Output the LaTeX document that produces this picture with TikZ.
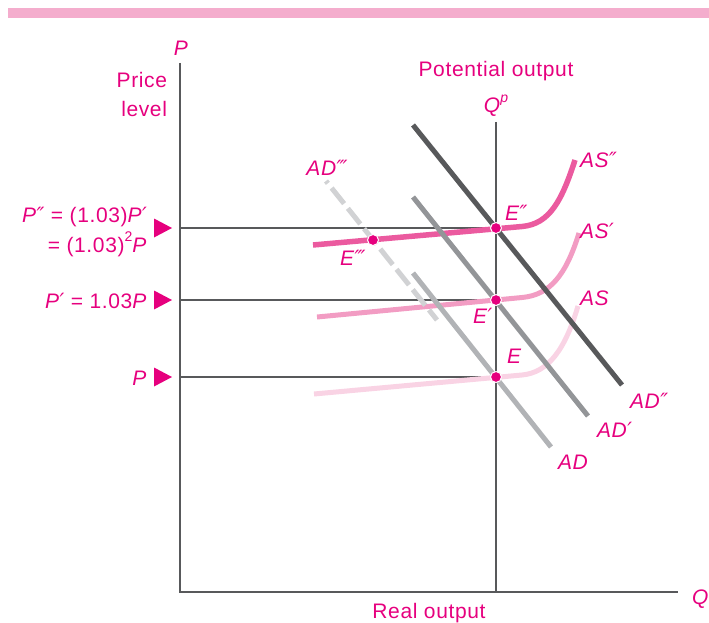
\documentclass[tikz,border=0pt]{standalone}
\usepackage{fontspec}
\setmainfont{Liberation Sans}[LetterSpace=3]
\newfontfamily\primefont{DejaVu Sans}
\newcommand{\pone}{{\primefont\itshape\kern0.5pt ′}}
\newcommand{\ptwo}{{\primefont\itshape\kern0.5pt ″}}
\newcommand{\pthree}{{\primefont\itshape\kern0.5pt ‴}}
\begin{document}
\begin{tikzpicture}[x=1pt,y=-1pt,
  every node/.style={inner sep=0pt, outer sep=0pt, text=mag, font=\fontsize{21}{25}\selectfont},
  axisline/.style={draw=axisgray, line width=1.4pt},
  guide/.style={draw=axisgray, line width=1.1pt},
  adline/.style={line width=5pt},
  asline/.style={line width=5pt, line cap=butt},
  eqdot/.style={circle, fill=mag, draw=white, line width=1pt, minimum size=11pt},
  marker/.style={fill=mag},
  lbl/.style={anchor=base west, font=\fontsize{21}{25}\selectfont\itshape}
]
\definecolor{mag}{HTML}{E6007E}
\definecolor{bar}{HTML}{F4ADCD}
\definecolor{axisgray}{HTML}{58595B}
\definecolor{addark}{HTML}{58595B}
\definecolor{admid}{HTML}{939598}
\definecolor{adlight}{HTML}{B1B3B6}
\definecolor{addash}{HTML}{D1D2D4}
\definecolor{asA}{HTML}{F9D3E4}
\definecolor{asB}{HTML}{F29CC3}
\definecolor{asC}{HTML}{EB5A9F}
\useasboundingbox (0,0) rectangle (709,623);
% top bar
\fill[bar] (8,8) rectangle (709,18);

% axes
\coordinate (O) at (180,592);
\coordinate (ytop) at (180,63);
\coordinate (xend) at (678,592);
\coordinate (qptop) at (496,122);
\coordinate (qpbot) at (496,592);
\draw[axisline] (ytop) -- (O) -- (xend);
\draw[guide] (qptop) -- (qpbot);

% equilibrium points
\coordinate (E) at (496,377);
\coordinate (E1) at (496,300);
\coordinate (E2) at (496,228);
\coordinate (E3) at (373,240);

% price guides
\coordinate (yP) at (180,377);
\coordinate (yP1) at (180,300);
\coordinate (yP2) at (180,228);
\draw[guide] (yP) -- (E);
\draw[guide] (yP1) -- (E1);
\draw[guide] (yP2) -- (E2);

% AS curves
\draw[asline, draw=asA] (314,394) -- (522,375) .. controls (548,372.6) and (565,350) .. (578,306);
\draw[asline, draw=asB] (317,317) -- (522,297.5) .. controls (550,295) and (566,275) .. (579,233);
\draw[asline, draw=asC, line width=5.5pt] (313,245) -- (522,226.5) .. controls (550,224) and (562,200) .. (575,160);

% AD lines
\coordinate (ad0a) at (413,273); \coordinate (ad0b) at (551,447);
\coordinate (ad1a) at (413,197); \coordinate (ad1b) at (588,416);
\coordinate (ad2a) at (413,125); \coordinate (ad2b) at (622,385);
\coordinate (ad3a) at (326,181); \coordinate (ad3b) at (437,320);
\draw[adline, draw=addash, dash pattern=on 20pt off 6pt, dash phase=17pt] (ad3a) -- (ad3b);
\draw[adline, draw=adlight] (ad0a) -- (ad0b);
\draw[adline, draw=admid] (ad1a) -- (ad1b);
\draw[adline, draw=addark] (ad2a) -- (ad2b);

% dots
\node[eqdot] (dE) at (E) {};
\node[eqdot] (dE1) at (E1) {};
\node[eqdot] (dE2) at (E2) {};
\node[eqdot] (dE3) at (E3) {};

% price markers
\fill[marker] (154,218.5) -- (172,228) -- (154,237.5) -- cycle;
\fill[marker] (154,290.5) -- (172,300) -- (154,309.5) -- cycle;
\fill[marker] (154,367.5) -- (172,377) -- (154,386.5) -- cycle;

% axis labels
\node[anchor=base, font=\fontsize{21}{25}\selectfont\itshape] (lP) at (181,56) {P};
\node[anchor=base east] (lprice) at (167,88) {Price};
\node[anchor=base east] (llevel) at (167,117) {level};
\node[anchor=base] (lpot) at (496,77) {Potential output};
\node[anchor=base, font=\fontsize{21}{25}\selectfont\itshape] (lQp) at (496,113) {Q\raisebox{0.5em}{\fontsize{14}{16}\selectfont p}};
\node[lbl] (lQ) at (692,604) {Q};
\node[anchor=base] (lreal) at (429,618) {Real output};

% price labels
\node[anchor=base east] (lP2) at (147,222) {\textit{P\ptwo} = (1.03)\textit{P\pone}};
\node[anchor=base east] (lP2b) at (147,252) {= (1.03)\raisebox{0.5em}{\fontsize{14}{16}\selectfont 2}\textit{P}};
\node[anchor=base east] (lP1) at (147,308) {\textit{P\pone} = 1.03\textit{P}};
\node[anchor=base east] (lP0) at (147,385) {\textit{P}};

% curve labels
\node[lbl, anchor=base] (lAD3) at (327,175) {AD\pthree};
\node[lbl] (lAS2) at (580,167) {AS\ptwo};
\node[lbl] (lAS1) at (580,238) {AS\pone};
\node[lbl] (lAS0) at (580,305) {AS};
\node[lbl] (lE2) at (505,220) {E\ptwo};
\node[lbl] (lE3) at (340,265) {E\pthree};
\node[lbl] (lE1) at (473,323) {E\pone};
\node[lbl] (lE0) at (507,363) {E};
\node[lbl] (lAD2) at (630,408) {AD\ptwo};
\node[lbl] (lAD1) at (597,437) {AD\pone};
\node[lbl] (lAD0) at (558,469) {AD};
\end{tikzpicture}
\end{document}
